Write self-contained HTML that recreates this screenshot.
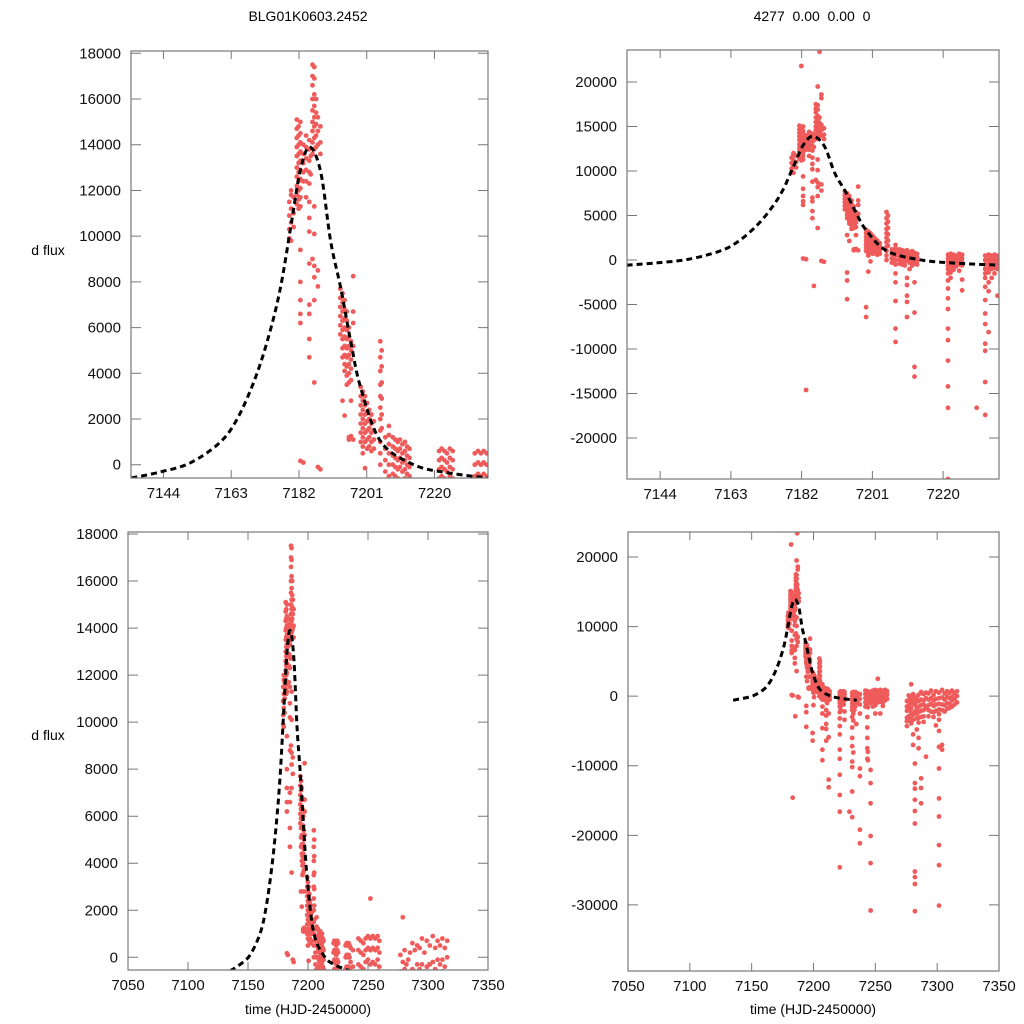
<!DOCTYPE html>
<html><head><meta charset="utf-8">
<style>
html,body{margin:0;padding:0;background:#fff;overflow:hidden;width:1024px;height:1024px;}
svg{display:block;font-family:"Liberation Sans",Arial,sans-serif;}
</style></head>
<body>
<svg id="chart" width="1024" height="1024" viewBox="0 0 1024 1024" xmlns="http://www.w3.org/2000/svg">
<rect width="1024" height="1024" fill="#fff"/>
<text x="308" y="21" font-size="14" text-anchor="middle">BLG01K0603.2452</text>
<text x="812" y="21" font-size="14" text-anchor="middle" xml:space="preserve">4277  0.00  0.00  0</text>
<text x="48" y="255" font-size="14" text-anchor="middle">d flux</text>
<text x="48" y="740" font-size="14" text-anchor="middle">d flux</text>
<text x="308" y="1014" font-size="14" text-anchor="middle">time (HJD-2450000)</text>
<text x="813" y="1014" font-size="14" text-anchor="middle">time (HJD-2450000)</text>
</svg>
<script>
// ---- data ----
const obsTimes = [7179.3,7179.8,7180.5,7181.4,7181.9,7182.4,7183.2,7184.0,7184.9,7185.3,7185.8,7186.3,7186.8,7187.3,7188.0,
7193.6,7194.2,7194.8,7195.4,7196.0,7196.6,7197.2,7199.3,7199.9,7200.5,7201.1,7201.7,7202.3,7203.0,7204.8,7205.2,7206.2,7207.2,
7208.3,7209.0,7209.7,7210.3,7211.0,7211.7,7212.3,7213.0,7221.3,7222.0,7222.8,7223.5,7224.3,7225.1,7229.0,7231.3,7232.2,7233.0,
7233.8,7234.6,7235.5,7237.5,7242,7243.5,7244,7246.2,7248,7250,7252,7254,7256,7258,7259.5,7275.5,7277,7279,7280.5,7282,7283.5,
7285,7287,7289,7291,7293,7295,7297,7299,7301.5,7304,7306,7308,7310,7312,7314,7316];
const obsFluxes = [
[11500,10900,10300,9900],[11800,11200,10600,9800,12000],[11700,11000,10400],
[15100,14700,14300,13900,13500,13000,12600,12200,11800,11400],
[14800,14400,14000,13600,13200,12800,12400,12000,11600,11200,21800],
[15000,14500,14100,13700,13300,12900,12500,12100,11700,11300,9400,8000,7200,6600,6200,170],
[14000,13600,13200,12800,12400,100,-14600],
[14400,13900,13400,12900,12400,11700],
[14200,13800,13300,12800,12300,11500,10800,10200,8800,7000,5500,4700,6600],
[-2900,13500,12700],
[17500,17000,16600,16000,15500,15000,14600,14100,13600,9000],
[19500,17400,16900,16200,15700,15200,14800,14300,13800,11300,10100,8700,8200,7200,3600],
[16000,15400,14900,14400,13900,23400],
[18600,18200,15200,14600,14000,-100,8500,7800],
[14800,14100,13600,-200],
[7700,7300,6900,6500,6100,5700],
[7500,7100,6700,6300,5900,5500,5100,4700,2800,-2300,-1400,-4400],
[7200,6800,6400,6000,5600,5200,4800,4400,4100,2150],
[6700,6300,5900,5500,5100,4700,4300,3900,3500],
[6000,5600,5200,4800,4400,4000,3600,1200,1100],
[5400,5000,4600,4200,3700,1250,2800],
[8250,6700,6200,5200,1100],
[3400,3000,2600,2200,1800,1400,1000,-5300,-6400],
[3200,2800,2400,2000,1600,1200,800,500,-1300],
[3000,2600,2200,1800,1400,1000,-150],
[2700,2300,1900,1500,1100,700],
[2400,2000,1600,1200,800],
[2200,1800,1400,1000,600],
[1900,1500,1100,700],
[5400,4700,4100,3500,3000,2500,2000,1500,1000,500,0],
[5000,4300,3600,2900,2200,1600],
[1200,700,200,-300],
[1700,1300,900,500,0,-500,-1500,-2500,-4600,-7700,-9200],
[1200,800,400,0,-400],
[1100,700,300,-100,-500],
[1000,600,200,-200,-600],
[1100,700,300,-100,-4000,-4700,-6400,-2000,-2800],
[900,500,100,-300,-1000],
[1000,600,200,-200,-600],
[800,400,0,-400,-5900,-12000,-13100,-2500],
[700,300,-100,-500],
[600,200,-200,-600,-1000,-1500,-2300,-3200,-4300,-7700,-11300,-14200,-16600,-24600,-5500,-9000],
[700,300,-100,-500,-900,-1400,-2000],
[600,200,-200,-600,-1100],
[500,100,-300,-700],
[700,300,-100,-500,-1200],
[600,200,-200,-600,-3400,-2200],
[-16600],
[500,0,-500,-1000,-1500,-2000,-3000,-4500,-6000,-7200,-9400,-10200,-13700,-17400],
[600,100,-400,-900,-1400,-2500,-3500,-8100],
[500,0,-500,-1000,-2000],
[600,100,-400,-900,-1500],
[500,0,-500,-1000,-4000],
[400,-200,-800],
[300,-400,-1200,-2500,-10400,-19200,-21150,-11500],
[800,300,-300,-900,-1500],
[-3000,-4500,-6000,-7500,-9000],
[700,200,-400,-1000,-1600,-8000,-9200],
[600,100,-500,-1000,-10600,-12500,-15400,-20100,-24000,-30800],
[800,300,-200,-800,-1500],
[900,400,-100,-700,-1300,-2500],
[2500,800,300,-300,-900],
[900,400,-200,-800,-2500],
[800,300,-300,-900,-1400],
[900,400,-100,-600],
[700,200,-400],
[-700,-1500,-2100,-3100,-3600,-4300],
[100,-600,-1300,-1900,-2900,-3500],
[1700,-200,-900,-1700,-2400,-3300,-3900],
[300,-500,-1100,-2700,-3400,-5500,-7000],
[-300,-1200,-2200,-9700,-12500,-13300,-14900,-16500,-18300,-25200,-26000,-27000,-30900],
[-100,-800,-1700,-2500,-3200,-4800],
[200,-700,-1500,-2300,-3100,-3800,-6000,-7500],
[600,-500,-1300,-2100,-3000,-11800,-13200,-15400],
[300,-600,-1200,-2000,-2900,-3700],
[-8700,500,-300,-1600],
[400,-500,-1300,-2000,-2900],
[800,-300,-1100,-2200],
[200,-600,-1400,-2300,-3000],
[700,-400,-1200,-2100,-4200],
[500,-300,-1100,-1900,-2600,-3400,-5000,-7300,-10400,-14700,-17300,-21400,-24300,-30100],
[900,-200,-1200,-2000,-7000,-7700],
[400,-500,-1300,-2200],
[700,-100,-1000,-1800],
[500,-300,-1100,-1700],
[800,-100,-600,-1500],
[400,-400,-1200],
[700,0,-900]
];
const modelTimes = [7135,7143,7151.5,7160,7165,7170,7174,7177,7180,7182.4,7185,7188.1,7190.9,7193.7,7196.5,7199.3,7204.9,7214.2,7223.6,7235];
const modelFlux = [-580,-320,80,1000,2100,3900,5900,7900,10700,12900,13900,12800,9760,7740,5400,3370,1020,0,-350,-580];

const topTicksX = [7144,7163,7182,7201,7220];
const bottomTicksX = [7050,7100,7150,7200,7250,7300,7350];
const leftTicksY = [0,2000,4000,6000,8000,10000,12000,14000,16000,18000];
const topRightTicksY = [-20000,-15000,-10000,-5000,0,5000,10000,15000,20000];
const bottomRightTicksY = [-30000,-20000,-10000,0,10000,20000];

// ---- panels (layout) ----
const panels = [
 {name:'top-left', x0:131,x1:488,y0:51,y1:478, xd:[7134.9,7235], yd:[-580,18100], xt:topTicksX, yt:leftTicksY},
 {name:'top-right', x0:627,x1:999,y0:50,y1:479, xd:[7135.1,7235], yd:[-24600,23600], xt:topTicksX, yt:topRightTicksY},
 {name:'bottom-left', x0:128,x1:488,y0:532,y1:970, xd:[7050,7350], yd:[-540,18085], xt:bottomTicksX, yt:leftTicksY},
 {name:'bottom-right', x0:628,x1:999,y0:532,y1:971, xd:[7050,7350], yd:[-39500,23590], xt:bottomTicksX, yt:bottomRightTicksY}
];
const NS='http://www.w3.org/2000/svg';
const svg=document.getElementById('chart');
function mk(tag,attrs,parent){const e=document.createElementNS(NS,tag);for(const k in attrs)e.setAttribute(k,attrs[k]);(parent||svg).appendChild(e);return e;}

panels.forEach((p,pi)=>{
  const sx=v=>p.x0+(v-p.xd[0])/(p.xd[1]-p.xd[0])*(p.x1-p.x0);
  const sy=v=>p.y1-(v-p.yd[0])/(p.yd[1]-p.yd[0])*(p.y1-p.y0);
  const g=mk('g',{});
  
  
  const cp=mk('clipPath',{id:'clip'+pi},g);
  mk('rect',{x:p.x0,y:p.y0,width:p.x1-p.x0,height:p.y1-p.y0},cp);
  p.xt.forEach(t=>{
    const x=sx(t);
    const tk=mk('path',{d:`M${x},${p.y1}v-8M${x},${p.y0}v8`,stroke:'#777','stroke-width':1},g);
    
    
    const lb=mk('text',{x:x,y:p.y1+20,'font-size':15,'text-anchor':'middle',fill:'#111'},g);
    lb.textContent=t;
    
    
  });
  p.yt.forEach(t=>{
    const y=sy(t);
    const tk=mk('path',{d:`M${p.x0},${y}h10M${p.x1},${y}h-10`,stroke:'#777','stroke-width':1},g);
    
    
    const lb=mk('text',{x:p.x0-10,y:y+5,'font-size':15,'text-anchor':'end',fill:'#111'},g);
    lb.textContent=t;
    
    
  });
  const dg=mk('g',{'clip-path':`url(#clip${pi})`,fill:'#ef5b5b'},g);
  
  
  obsTimes.forEach((t,i)=>{
    obsFluxes[i].forEach(f=>{
      const c=mk('circle',{cx:sx(t).toFixed(1),cy:sy(f).toFixed(1),r:2.4},dg);
      
      
    });
  });
  const pts=modelTimes.map((t,i)=>[sx(t),sy(modelFlux[i])]);
  let d='M'+pts[0][0]+','+pts[0][1];
  for(let i=0;i<pts.length-1;i++){
    const p0=pts[Math.max(0,i-1)],p1=pts[i],p2=pts[i+1],p3=pts[Math.min(pts.length-1,i+2)];
    const c1=[p1[0]+(p2[0]-p0[0])/6,p1[1]+(p2[1]-p0[1])/6];
    const c2=[p2[0]-(p3[0]-p1[0])/6,p2[1]-(p3[1]-p1[1])/6];
    d+=`C${c1[0]},${c1[1]} ${c2[0]},${c2[1]} ${p2[0]},${p2[1]}`;
  }
  const ml=mk('path',{d:d,fill:'none',stroke:'#000','stroke-width':3,'stroke-dasharray':'6,4','clip-path':`url(#clip${pi})`},g);
  
  
  const bx=mk('rect',{x:p.x0,y:p.y0,width:p.x1-p.x0,height:p.y1-p.y0,fill:'none',stroke:'#777','stroke-width':1.2},g);
  
  
});
</script>
</body></html>
